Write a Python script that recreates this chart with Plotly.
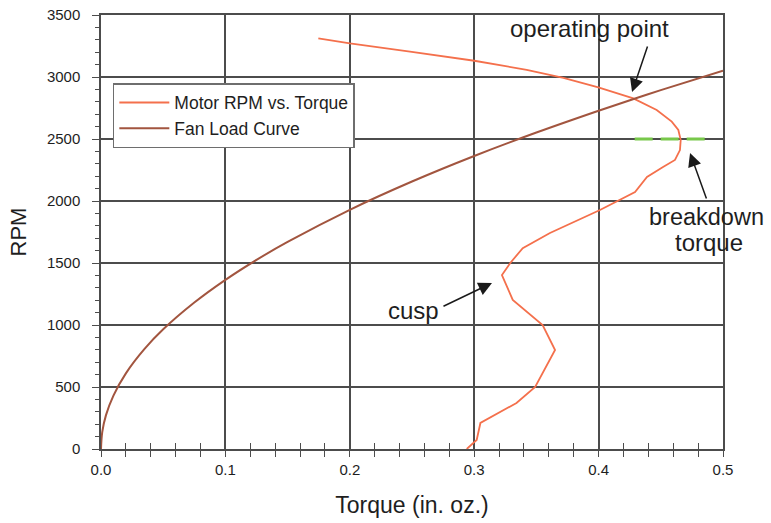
import plotly.graph_objects as go

# ---- data ----
motor_torque = [0.1747, 0.2001, 0.2484, 0.3001, 0.3422, 0.3717, 0.3998, 0.4279, 0.4467, 0.4588,
                0.4641, 0.4660, 0.4654, 0.4614, 0.4518, 0.4389, 0.4293, 0.4172, 0.4011, 0.3609,
                0.3390, 0.3290, 0.3223, 0.3310, 0.3550, 0.3650, 0.3490, 0.3340, 0.3050, 0.3020,
                0.2940]
motor_rpm = [3312, 3271, 3204, 3131, 3058, 2993, 2917, 2828, 2734, 2640,
             2573, 2492, 2411, 2331, 2274, 2194, 2073, 2008, 1927, 1742,
             1620, 1500, 1403, 1202, 1000, 798, 500, 371, 210, 73,
             0]

fan_torque = [0.0, 0.001, 0.004, 0.01, 0.02, 0.035, 0.05, 0.075, 0.1, 0.125, 0.15,
              0.2, 0.25, 0.3, 0.35, 0.4, 0.43, 0.45, 0.5]
fan_rpm = [0, 136, 273, 431, 610, 807, 965, 1181, 1364, 1525, 1670,
           1929, 2157, 2363, 2552, 2728, 2829, 2894, 3050]

breakdown_torque = [0.429, 0.487]
breakdown_rpm = [2500, 2500]

x_ticks = [0.0, 0.1, 0.2, 0.3, 0.4, 0.5]
y_ticks = [0, 500, 1000, 1500, 2000, 2500, 3000, 3500]

FONT = "Liberation Sans, Arial, sans-serif"
GRID = "#4c4c4c"
TXT = "#1e1e1e"

fig = go.Figure()
fig.add_trace(go.Scatter(x=motor_torque, y=motor_rpm, mode="lines",
                         name="Motor RPM vs. Torque",
                         line=dict(color="#f4704c", width=1.8)))
fig.add_trace(go.Scatter(x=fan_torque, y=fan_rpm, mode="lines",
                         name="Fan Load Curve", line_shape="spline",
                         line=dict(color="#a2553f", width=2)))
fig.add_trace(go.Scatter(x=breakdown_torque, y=breakdown_rpm, mode="lines",
                         showlegend=False,
                         line=dict(color="#78c84a", width=3, dash="18px,8px")))
# invisible trace to activate the mirrored inside-tick axis
fig.add_trace(go.Scatter(x=[0, 0.5], y=[0, 0], xaxis="x2", mode="lines",
                         line=dict(width=0), showlegend=False, hoverinfo="skip"))

fig.update_layout(
    width=771, height=523,
    margin=dict(l=101, r=48, t=15, b=74),
    paper_bgcolor="white", plot_bgcolor="white",
    font=dict(family=FONT, color=TXT),
    showlegend=True,
    legend=dict(x=0.019, y=0.843, xanchor="left", yanchor="top",
                bgcolor="white", bordercolor="#6e6e6e", borderwidth=1.5,
                font=dict(size=17.5, family=FONT, color=TXT),
                tracegroupgap=0, itemwidth=50),
    xaxis=dict(range=[0, 0.5], tickvals=x_ticks, tickformat=".1f", automargin=False,
               showgrid=True, gridcolor=GRID, gridwidth=1.5,
               showline=True, linecolor=GRID, linewidth=1.5, mirror=True,
               ticks="outside", ticklen=6, tickcolor=GRID, tickwidth=1.2,
               minor=dict(dtick=0.02, ticks="outside", ticklen=6, tickcolor=GRID,
                          tickwidth=1.2, showgrid=False),
               tickfont=dict(size=15, color=TXT), zeroline=False,
               title=dict(text="Torque (in. oz.)", font=dict(size=23, color=TXT), standoff=20)),
    xaxis2=dict(range=[0, 0.5], overlaying="x", side="bottom", anchor="y",
                showgrid=False, showticklabels=False, tickvals=x_ticks, automargin=False,
                ticks="inside", ticklen=6, tickcolor=GRID, tickwidth=1.2,
                minor=dict(dtick=0.02, ticks="inside", ticklen=6, tickcolor=GRID,
                           tickwidth=1.2, showgrid=False),
                showline=False, zeroline=False),
    yaxis=dict(range=[0, 3500], tickvals=y_ticks, automargin=False,
               showgrid=True, gridcolor=GRID, gridwidth=1.5,
               showline=True, linecolor=GRID, linewidth=1.5, mirror=True,
               ticks="outside", ticklen=7, tickcolor=GRID, tickwidth=1.2,
               minor=dict(dtick=100, ticks="outside", ticklen=4, tickcolor=GRID,
                          tickwidth=1, showgrid=False),
               tickfont=dict(size=15, color=TXT), zeroline=False,
               ticklabelstandoff=9,
               title=dict(text="RPM", font=dict(size=22, color=TXT), standoff=14)),
)

ann_font = dict(size=24, family=FONT, color=TXT)
arrow = dict(showarrow=True, arrowhead=2, arrowsize=1.8, arrowwidth=1.5,
             arrowcolor="#1a1a1a", axref="x", ayref="y", standoff=0)
fig.add_annotation(x=0.4269, y=2879, ax=0.4397, ay=3258, text="", **arrow)
fig.add_annotation(x=0.4735, y=2387, ax=0.4871, ay=2008, text="", **arrow)
fig.add_annotation(x=0.3143, y=1339, ax=0.2741, ay=1145, text="", **arrow)

fig.add_annotation(x=0.393, y=3395, text="operating point", showarrow=False, font=ann_font)
fig.add_annotation(x=0.487, y=1871, text="breakdown", showarrow=False, font=dict(size=23.5, family=FONT, color=TXT))
fig.add_annotation(x=0.489, y=1669, text="torque", showarrow=False, font=ann_font)
fig.add_annotation(x=0.2508, y=1121, text="cusp", showarrow=False, font=ann_font)

# remove the default page margin so the 771x523 figure fills the window exactly
fig.write_html("out.html", config={"displayModeBar": False},
               post_script="document.body.style.margin='0';document.body.style.overflow='hidden';")
